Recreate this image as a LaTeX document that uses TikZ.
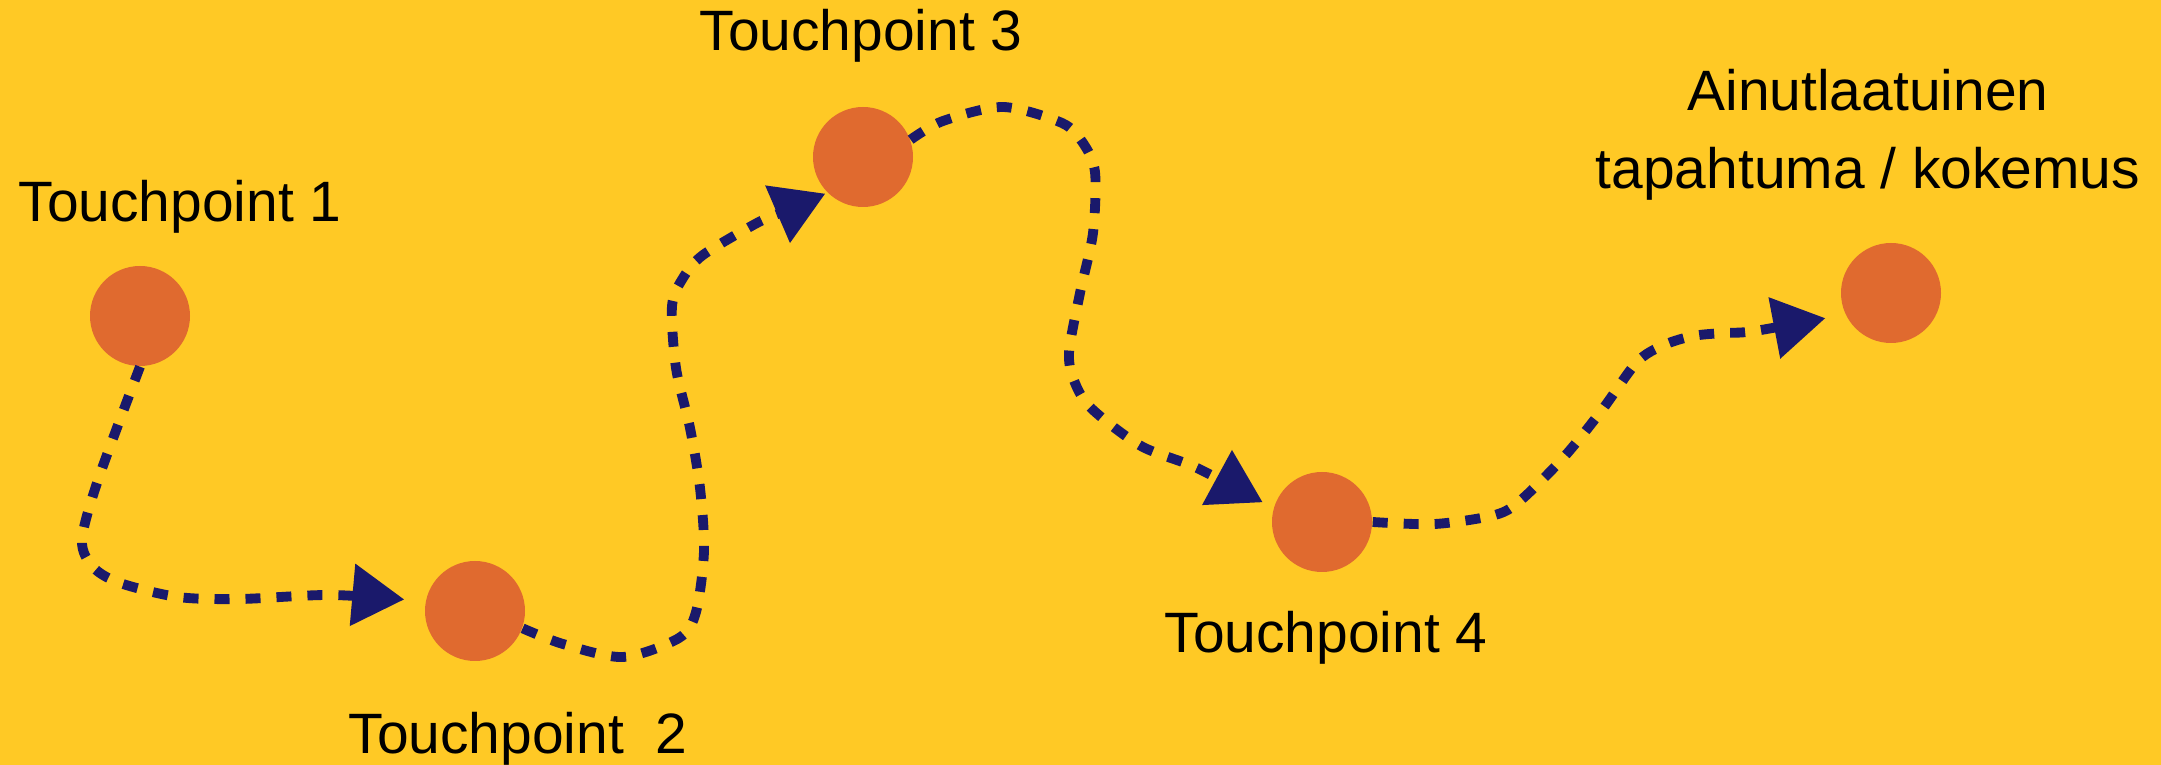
\documentclass[tikz,border=0pt]{standalone}
\usepackage{fontspec}
\setmainfont{Liberation Sans}
\usetikzlibrary{arrows.meta}
\definecolor{bgyellow}{RGB}{255,201,37}
\definecolor{dotorange}{RGB}{224,106,47}
\definecolor{pathnavy}{RGB}{26,25,107}

\begin{document}
\begin{tikzpicture}[
  dot/.style={circle,fill=dotorange,minimum size=1cm,inner sep=0pt},
  route/.style={pathnavy,line width=2.8pt,dash pattern=on 0.15cm off 0.16cm,
    -{Triangle[length=0.52cm,width=0.6cm]}},
  tptext/.style={anchor=base,inner sep=0pt,align=center,
    font=\fontsize{16.2}{22.4}\selectfont}
]
  \fill[bgyellow] (0,0) rectangle (21.61,7.65);
  \useasboundingbox (0,0) rectangle (21.61,7.65);

  % touchpoints
  \node[dot] (tp1) at (1.40,4.49) {};
  \node[dot] (tp2) at (4.75,1.54) {};
  \node[dot] (tp3) at (8.63,6.08) {};
  \node[dot] (tp4) at (13.22,2.43) {};
  \node[dot] (goal) at (18.91,4.72) {};

  \node[tptext] (t1) at (1.80,5.43) {Touchpoint 1};
  \node[tptext] (t2) at (5.18,0.11) {Touchpoint\ \ 2};
  \node[tptext] (t3) at (8.61,7.14) {Touchpoint 3};
  \node[tptext] (t4) at (13.26,1.12) {Touchpoint 4};
  \node[tptext] (tgoal) at (18.68,5.76) {Ainutlaatuinen\\tapahtuma / kokemus};

  % the journey
  \draw[route,shorten >=0.21cm] plot[smooth] coordinates {(tp1.south)
    (0.98,2.85) (0.82,2.25) (0.93,1.98) (1.20,1.82) (1.78,1.68)
    (2.40,1.66) (3.32,1.70) (tp2.169)};
  \draw[route,shorten >=0.02cm] plot[smooth] coordinates {(tp2.-20)
    (5.63,1.21) (6.23,1.08) (6.79,1.27) (6.96,1.53) (7.04,2.14)
    (7.00,2.77) (6.90,3.37) (6.76,3.97) (6.72,4.59) (6.83,4.87)
    (7.03,5.10) (7.57,5.42) (7.85,5.54) (tp3.225)};
  \draw[route,shorten >=0.12cm] plot[smooth] coordinates {(tp3.20)
    (9.43,6.44) (10.03,6.58) (10.62,6.42) (10.83,6.22) (10.95,5.93)
    (10.93,5.32) (10.80,4.72) (10.69,4.12) (10.75,3.82) (10.92,3.56)
    (11.41,3.19) (11.97,2.97) (tp4.164)};
  \draw[route,shorten >=0.2cm] plot[smooth] coordinates {(tp4.east)
    (14.35,2.41) (14.95,2.50) (15.21,2.65) (15.64,3.08) (16.02,3.55)
    (16.37,4.03) (16.64,4.20) (16.93,4.29) (17.23,4.32) (17.55,4.34)
    (goal.205)};
\end{tikzpicture}
\end{document}
